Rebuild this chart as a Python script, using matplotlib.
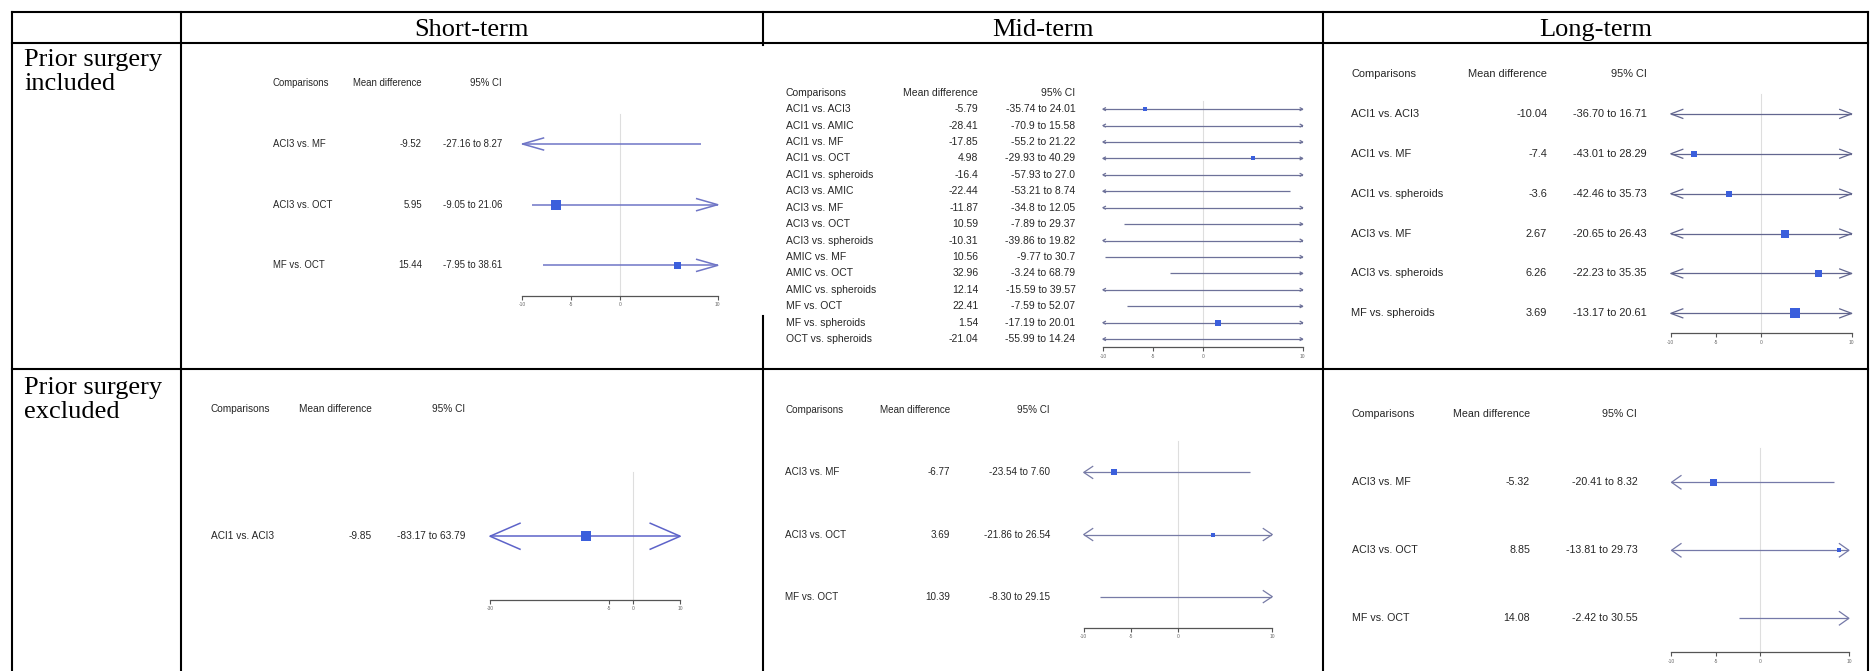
import matplotlib
matplotlib.use("Agg")
import matplotlib.pyplot as plt
import matplotlib.transforms as mtransforms

plt.rcParams['axes.unicode_minus'] = False

W, H = 1874, 671

# table headers
periods = ["Short-term", "Mid-term", "Long-term"]
groups = [["Prior surgery", "included"], ["Prior surgery", "excluded"]]

# short-term, prior surgery included
st_inc_names = ["ACI3 vs. MF", "ACI3 vs. OCT", "MF vs. OCT"]
st_inc_md = [-9.52, 5.95, 15.44]
st_inc_ci = ["-27.16 to 8.27", "-9.05 to 21.06", "-7.95 to 38.61"]
st_inc_lo = [-27.16, -9.05, -7.95]
st_inc_hi = [8.27, 21.06, 38.61]
st_inc_box = [None, -6.6, 5.8]      # where the boxes sit in the source picture
st_inc_w = [0, 10, 7]

# mid-term, prior surgery included
mt_inc_names = ["ACI1 vs. ACI3", "ACI1 vs. AMIC", "ACI1 vs. MF", "ACI1 vs. OCT",
                "ACI1 vs. spheroids", "ACI3 vs. AMIC", "ACI3 vs. MF", "ACI3 vs. OCT",
                "ACI3 vs. spheroids", "AMIC vs. MF", "AMIC vs. OCT", "AMIC vs. spheroids",
                "MF vs. OCT", "MF vs. spheroids", "OCT vs. spheroids"]
mt_inc_md = [-5.79, -28.41, -17.85, 4.98, -16.4, -22.44, -11.87, 10.59,
             -10.31, 10.56, 32.96, 12.14, 22.41, 1.54, -21.04]
mt_inc_ci = ["-35.74 to 24.01", "-70.9 to 15.58", "-55.2 to 21.22", "-29.93 to 40.29",
             "-57.93 to 27.0", "-53.21 to 8.74", "-34.8 to 12.05", "-7.89 to 29.37",
             "-39.86 to 19.82", "-9.77 to 30.7", "-3.24 to 68.79", "-15.59 to 39.57",
             "-7.59 to 52.07", "-17.19 to 20.01", "-55.99 to 14.24"]
mt_inc_lo = [-35.74, -70.9, -55.2, -29.93, -57.93, -53.21, -34.8, -7.89,
             -39.86, -9.77, -3.24, -15.59, -7.59, -17.19, -55.99]
mt_inc_hi = [24.01, 15.58, 21.22, 40.29, 27.0, 8.74, 12.05, 29.37,
             19.82, 30.7, 68.79, 39.57, 52.07, 20.01, 14.24]
mt_inc_box = mt_inc_md
mt_inc_w = [4, 3, 3, 3.5, 3, 3, 3, 3, 3, 3, 3, 3, 3, 6, 3]

# long-term, prior surgery included
lt_inc_names = ["ACI1 vs. ACI3", "ACI1 vs. MF", "ACI1 vs. spheroids",
                "ACI3 vs. MF", "ACI3 vs. spheroids", "MF vs. spheroids"]
lt_inc_md = [-10.04, -7.4, -3.6, 2.67, 6.26, 3.69]
lt_inc_ci = ["-36.70 to 16.71", "-43.01 to 28.29", "-42.46 to 35.73",
             "-20.65 to 26.43", "-22.23 to 35.35", "-13.17 to 20.61"]
lt_inc_lo = [-36.70, -43.01, -42.46, -20.65, -22.23, -13.17]
lt_inc_hi = [16.71, 28.29, 35.73, 26.43, 35.35, 20.61]
lt_inc_box = lt_inc_md
lt_inc_w = [5, 6, 6, 7.5, 7, 10.5]

# short-term, prior surgery excluded
st_exc_names = ["ACI1 vs. ACI3"]
st_exc_md = [-9.85]
st_exc_ci = ["-83.17 to 63.79"]
st_exc_lo = [-83.17]
st_exc_hi = [63.79]
st_exc_box = st_exc_md
st_exc_w = [10]

# mid-term, prior surgery excluded
mt_exc_names = ["ACI3 vs. MF", "ACI3 vs. OCT", "MF vs. OCT"]
mt_exc_md = [-6.77, 3.69, 10.39]
mt_exc_ci = ["-23.54 to 7.60", "-21.86 to 26.54", "-8.30 to 29.15"]
mt_exc_lo = [-23.54, -21.86, -8.30]
mt_exc_hi = [7.60, 26.54, 29.15]
mt_exc_box = mt_exc_md
mt_exc_w = [6.7, 4.4, 5]

# long-term, prior surgery excluded
lt_exc_names = ["ACI3 vs. MF", "ACI3 vs. OCT", "MF vs. OCT"]
lt_exc_md = [-5.32, 8.85, 14.08]
lt_exc_ci = ["-20.41 to 8.32", "-13.81 to 29.73", "-2.42 to 30.55"]
lt_exc_lo = [-20.41, -13.81, -2.42]
lt_exc_hi = [8.32, 29.73, 30.55]
lt_exc_box = lt_exc_md
lt_exc_w = [7, 5, 5]

ticks_10 = [-10, -5, 0, 10]
ticks_30 = [-30, -5, 0, 10]

# layout of each forest plot (pixels): header y, axis y, axis left/right,
# name x, mean right, CI right, font size, line colour, arrow length/half height, line width
panels = [
    dict(names=st_inc_names, md=st_inc_md, ci=st_inc_ci, lo=st_inc_lo, hi=st_inc_hi,
         box=st_inc_box, w=st_inc_w, xlim=(-10, 10), ticks=ticks_10,
         hy=83.3, ay=295.7, xl=522.5, xr=717.7, nx=273, mx=422, cx=502, fs=6.9,
         col='#6f75c6', al=21, ah=6, lw=1.1),
    dict(names=mt_inc_names, md=mt_inc_md, ci=mt_inc_ci, lo=mt_inc_lo, hi=mt_inc_hi,
         box=mt_inc_box, w=mt_inc_w, xlim=(-10, 10), ticks=ticks_10,
         hy=92.7, ay=347.3, xl=1102.9, xr=1302.7, nx=785.9, mx=978.3, cx=1075.5, fs=7.5,
         col='#6d7199', al=2.5, ah=1.3, lw=0.9),
    dict(names=lt_inc_names, md=lt_inc_md, ci=lt_inc_ci, lo=lt_inc_lo, hi=lt_inc_hi,
         box=lt_inc_box, w=lt_inc_w, xlim=(-10, 10), ticks=ticks_10,
         hy=74, ay=333.3, xl=1670.8, xr=1851.7, nx=1351.1, mx=1547.2, cx=1646.5, fs=7.9,
         col='#62668f', al=12, ah=4.5, lw=0.9),
    dict(names=st_exc_names, md=st_exc_md, ci=st_exc_ci, lo=st_exc_lo, hi=st_exc_hi,
         box=st_exc_box, w=st_exc_w, xlim=(-30, 10), ticks=ticks_30,
         hy=408.7, ay=600, xl=490, xr=680.2, nx=210.6, mx=372.1, cx=465.1, fs=7.3,
         col='#5d63c9', al=30, ah=13, lw=1.1),
    dict(names=mt_exc_names, md=mt_exc_md, ci=mt_exc_ci, lo=mt_exc_lo, hi=mt_exc_hi,
         box=mt_exc_box, w=mt_exc_w, xlim=(-10, 10), ticks=ticks_10,
         hy=410.3, ay=627.7, xl=1083.7, xr=1272.3, nx=785.5, mx=950.1, cx=1050, fs=7.1,
         col='#777ba6', al=9, ah=6, lw=0.9),
    dict(names=lt_exc_names, md=lt_exc_md, ci=lt_exc_ci, lo=lt_exc_lo, hi=lt_exc_hi,
         box=lt_exc_box, w=lt_exc_w, xlim=(-10, 10), ticks=ticks_10,
         hy=414.3, ay=652.3, xl=1671.5, xr=1848.9, nx=1351.8, mx=1529.9, cx=1637.3, fs=7.7,
         col='#7579a8', al=9.5, ah=6.7, lw=0.9),
]

fig = plt.figure(figsize=(W / 100, H / 100), dpi=100)
bg = fig.add_axes([0, 0, 1, 1])
bg.set_xlim(0, W)
bg.set_ylim(H, 0)
bg.axis('off')

# table grid
left, right, top, bottom = 12, 1868, 12, 671
cols = [181, 763, 1323]
tk = 1.5
bg.plot([left, right], [top, top], color='black', lw=tk)
bg.plot([left, right], [43, 43], color='black', lw=tk)
bg.plot([left, right], [369, 369], color='black', lw=tk)
for x in [left, 181, 1323, right]:
    bg.plot([x, x], [top, bottom], color='black', lw=tk)
# the mid-term picture hides part of this divider in the source
bg.plot([763, 763], [top, 45], color='black', lw=tk)
bg.plot([763, 763], [316, bottom], color='black', lw=tk)

serif = 'Liberation Serif'
centers = [(181 + 763) / 2, (763 + 1323) / 2, (1323 + right) / 2]
for cxp, lab in zip(centers, periods):
    bg.text(cxp, 36, lab, ha='center', va='baseline', fontsize=19, family=serif)
for (l1, l2), base in zip(groups, [66, 394]):
    bg.text(24, base, l1, ha='left', va='baseline', fontsize=19, family=serif)
    bg.text(24, base + 24.5, l2, ha='left', va='baseline', fontsize=19, family=serif)

txt = '#262626'
sans = 'Liberation Sans'
for p in panels:
    n = len(p['names'])
    xmin, xmax = p['xlim']
    ax = fig.add_axes([p['xl'] / W, 1 - p['ay'] / H, (p['xr'] - p['xl']) / W,
                       (p['ay'] - p['hy']) / H])
    ax.set_xlim(xmin, xmax)
    ax.set_ylim(n + 0.5, 0)
    ax.patch.set_visible(False)
    for s in ['top', 'left', 'right']:
        ax.spines[s].set_visible(False)
    ax.spines['bottom'].set_color('#555555')
    ax.spines['bottom'].set_linewidth(0.9)
    ax.set_yticks([])
    ax.set_xticks(p['ticks'])
    ax.set_xticklabels([str(t) for t in p['ticks']], fontsize=3.5, color='#666666',
                       family=sans)
    ax.tick_params(axis='x', length=3, width=0.8, color='#555555', pad=1.5)

    ppu = (p['xr'] - p['xl']) / (xmax - xmin)
    ppr = (p['ay'] - p['hy']) / (n + 0.5)
    al, ah = p['al'] / ppu, p['ah'] / ppr

    # zero line
    ax.plot([0, 0], [0.5, n + 0.5], color='#dedede', lw=0.8, zorder=1)

    tr = mtransforms.blended_transform_factory(bg.transData, ax.transData)
    ax.text(p['nx'], 0, "Comparisons", transform=tr, ha='left', va='center',
            fontsize=p['fs'], color=txt, family=sans)
    ax.text(p['mx'], 0, "Mean difference", transform=tr, ha='right', va='center',
            fontsize=p['fs'], color=txt, family=sans)
    ax.text(p['cx'], 0, "95% CI", transform=tr, ha='right', va='center',
            fontsize=p['fs'], color=txt, family=sans)

    for i in range(n):
        y = i + 1
        ax.text(p['nx'], y, p['names'][i], transform=tr, ha='left', va='center',
                fontsize=p['fs'], color=txt, family=sans)
        ax.text(p['mx'], y, str(p['md'][i]), transform=tr, ha='right', va='center',
                fontsize=p['fs'], color=txt, family=sans)
        ax.text(p['cx'], y, p['ci'][i], transform=tr, ha='right', va='center',
                fontsize=p['fs'], color=txt, family=sans)

        lo = max(p['lo'][i], xmin)
        hi = min(p['hi'][i], xmax)
        ax.plot([lo, hi], [y, y], color=p['col'], lw=p['lw'], zorder=2,
                solid_capstyle='butt')
        if p['lo'][i] < xmin:
            ax.plot([xmin + al, xmin, xmin + al], [y - ah, y, y + ah],
                    color=p['col'], lw=p['lw'], zorder=2, clip_on=False)
        if p['hi'][i] > xmax:
            ax.plot([xmax - al, xmax, xmax - al], [y - ah, y, y + ah],
                    color=p['col'], lw=p['lw'], zorder=2, clip_on=False)
        b = p['box'][i]
        if b is not None and xmin <= b <= xmax and p['w'][i] > 0:
            ax.plot([b], [y], marker='s', markersize=p['w'][i] * 0.72,
                    color='#3b5fdc', markeredgewidth=0, zorder=3, clip_on=False)

fig.savefig('out.png', dpi=100)
